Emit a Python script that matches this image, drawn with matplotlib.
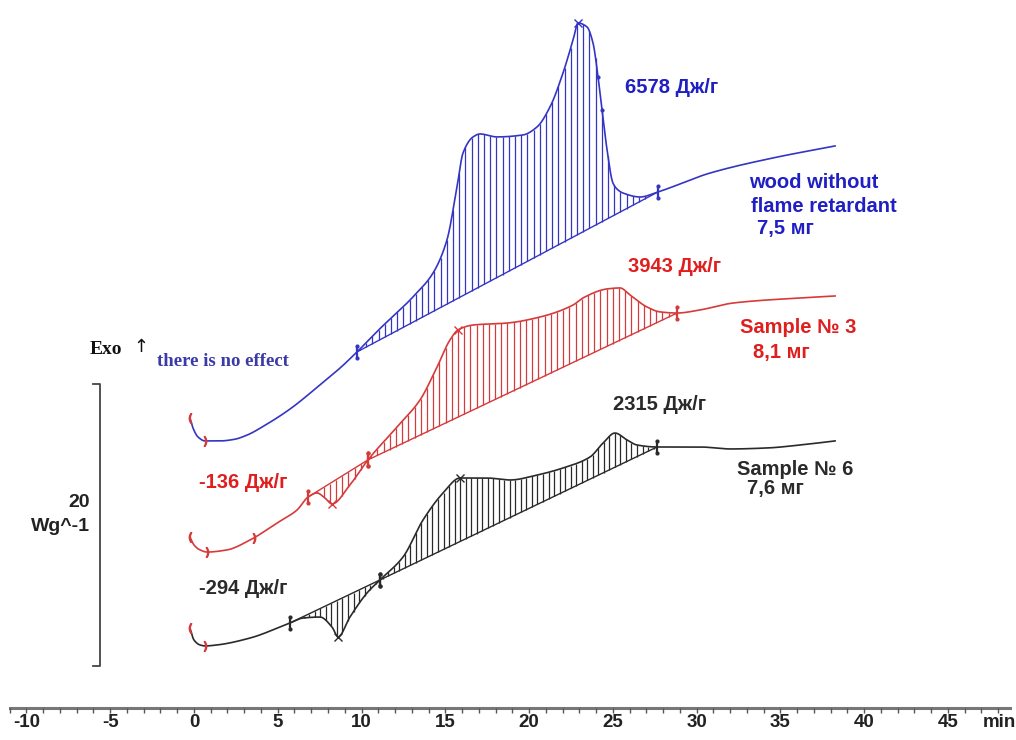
import numpy as np
import matplotlib.pyplot as plt
from matplotlib import font_manager

# DSC thermograms: time in min, heat flow in W/g (curves are shifted)
blue_t = [-0.24, -0.06, 0.24, 0.66, 1.55, 2.40, 3.16, 4.24, 5.73, 7.52, 8.72, 9.73, 11.10, 13.07, 14.27,
          15.10, 15.70, 16.06, 16.66, 17.07, 18.09, 19.64, 20.48, 21.25, 22.03, 22.63, 22.93, 23.46,
          23.82, 24.12, 24.36, 24.66, 25.01, 25.30, 25.61, 26.63, 27.70, 30.81, 34.57, 38.27]
blue_y = [20.57, 19.86, 19.22, 18.94, 18.94, 19.05, 19.35, 20.05, 21.20, 22.91, 24.11, 25.25, 26.90, 29.15,
          30.85, 33.19, 36.95, 39.36, 40.50, 40.71, 40.50, 40.64, 41.21, 42.62, 45.04, 47.38, 48.58, 48.30,
          47.16, 44.75, 42.41, 39.57, 37.23, 36.75, 36.52, 36.24, 36.60, 37.94, 39.01, 39.86]

red_t = [-0.24, 0.0, 0.36, 0.78, 1.97, 3.34, 4.96, 6.15, 6.81, 7.34, 7.82, 8.24, 9.31, 10.39,
         12.12, 13.49, 14.51, 15.28, 15.76, 16.66, 18.69, 20.66, 22.63, 23.22, 24.66, 25.43, 26.03,
         27.04, 27.82, 28.84, 30.21, 32.18, 36.18, 38.27]
red_y = [12.13, 11.56, 11.21, 11.06, 11.21, 11.91, 13.12, 14.04, 14.96, 15.25, 14.89, 14.47, 15.82, 17.60,
         19.93, 21.84, 24.18, 26.10, 26.81, 27.16, 27.30, 27.73, 28.58, 29.08, 29.72, 29.79, 29.29,
         28.44, 28.09, 28.01, 28.23, 28.72, 29.08, 29.22]

black_t = [-0.24, 0.0, 0.36, 0.66, 1.37, 3.34, 5.73, 6.51, 7.52, 8.24, 8.60, 9.31, 10.33, 11.10,
           12.48, 13.67, 14.87, 15.88, 17.49, 18.87, 20.48, 22.03, 23.64, 24.42, 25.13, 25.85, 26.45,
           27.64, 30.21, 32.0, 34.21, 36.18, 38.27]
black_y = [5.67, 4.82, 4.47, 4.40, 4.47, 4.96, 6.03, 6.38, 6.45, 5.74, 5.04, 6.45, 8.16, 9.08,
           10.71, 13.33, 15.25, 16.31, 16.31, 16.17, 16.52, 17.02, 17.80, 18.79, 19.50, 19.01, 18.65,
           18.51, 18.51, 18.37, 18.44, 18.65, 18.94]

# integration limits (start, end) of each peak
blue_peaks = [(9.73, 27.70)]
red_peaks = [(6.81, 10.39), (10.39, 28.84)]
black_peaks = [(5.73, 11.10), (11.10, 27.64)]

# peak tops marked with x
blue_x = [22.93]
red_x = [8.24, 15.76]
black_x = [8.60, 15.88]

tick_values = list(range(-10, 50, 5))

BLUE = '#3535c4'
RED = '#d63a3a'
BLACK = '#2a2a2a'
BLUE_TXT = '#1f1fc4'
RED_TXT = '#e01e1e'

names = {f.name for f in font_manager.fontManager.ttflist}
tick_font = 'Liberation Sans Narrow' if 'Liberation Sans Narrow' in names else 'Liberation Sans'

fig = plt.figure(figsize=(10.16, 7.4), dpi=100)
ax = fig.add_axes([0, 0, 1, 1])
ax.set_xlim(-11.58, 49.07)
ax.set_ylim(-2.27, 50.21)
ax.axis('off')


def pchip(t, y, tn):
    # monotone cubic (Fritsch-Carlson) through the read points
    h = np.diff(t)
    d = np.diff(y) / h
    m = np.zeros_like(y)
    for i in range(1, len(y) - 1):
        if d[i - 1] * d[i] > 0:
            w1 = 2 * h[i] + h[i - 1]
            w2 = h[i] + 2 * h[i - 1]
            m[i] = (w1 + w2) / (w1 / d[i - 1] + w2 / d[i])
    m[0] = d[0]
    m[-1] = d[-1]
    k = np.clip(np.searchsorted(t, tn) - 1, 0, len(t) - 2)
    s = (tn - t[k]) / h[k]
    h00 = 2 * s**3 - 3 * s**2 + 1
    h10 = s**3 - 2 * s**2 + s
    h01 = -2 * s**3 + 3 * s**2
    h11 = s**3 - s**2
    return h00 * y[k] + h10 * h[k] * m[k] + h01 * y[k + 1] + h11 * h[k] * m[k + 1]


def draw_curve(t, y, peaks, xs, color, step):
    t = np.array(t)
    y = np.array(y)
    tf = np.linspace(t[0], t[-1], 2000)
    yf = pchip(t, y, tf)
    ax.plot(tf, yf, color=color, lw=1.2)
    for t0, t1 in peaks:
        y0 = np.interp(t0, tf, yf)
        y1 = np.interp(t1, tf, yf)
        lines = np.arange(t0 + step / 2, t1, step)
        top = np.interp(lines, tf, yf)
        base = y0 + (lines - t0) * (y1 - y0) / (t1 - t0)
        ax.vlines(lines, base, top, colors=color, lw=0.9)
        ax.plot([t0, t1], [y0, y1], color=color, lw=1.0)
        ax.plot([t0, t1], [y0, y1], ls='none', marker='|', ms=9, mew=1.6, color=color)
        ax.plot([t0, t1, t0, t1], [y0 - 0.45, y1 - 0.45, y0 + 0.45, y1 + 0.45],
                ls='none', marker='.', ms=4, color=color)
    ax.plot(xs, np.interp(xs, tf, yf), ls='none', marker='x', ms=6, mew=1.0, color=color)
    # red brackets at the start of the run
    ax.plot([t[0]], [y[0]], ls='none', marker='$($', ms=7, color=RED)
    ax.plot([t[3]], [y[3]], ls='none', marker='$)$', ms=7, color=RED)
    return tf, yf


draw_curve(blue_t, blue_y, blue_peaks, blue_x, BLUE, 0.37)
rt, ry = draw_curve(red_t, red_y, red_peaks, red_x, RED, 0.37)
draw_curve(black_t, black_y, black_peaks, black_x, BLACK, 0.33)
ax.plot([3.6], [np.interp(3.6, rt, ry)], ls='none', marker='$)$', ms=7, color=RED)
ax.plot([24.12, 24.36], [np.interp(24.12, blue_t, blue_y), np.interp(24.36, blue_t, blue_y)],
        ls='none', marker='.', ms=4, color=BLUE)

# time axis
ax.plot([-11.0, 48.7], [0, 0], color='#777777', lw=2.2)
ax.vlines(np.arange(-11, 49), -0.38, 0, colors='#555555', lw=1.0)
for v in tick_values:
    ax.text(v, -1.06, str(v), ha='center', va='center', fontsize=13.5,
            family=tick_font, fontweight='bold', color='#222222')
ax.text(48.1, -1.06, 'min', ha='center', va='center', fontsize=13.5,
        family=tick_font, fontweight='bold', color='#222222')

# 20 W/g scale bar
ax.plot([-6.0, -5.61, -5.61, -6.0], [23.0, 23.0, 3.0, 3.0], color='#444444', lw=1.3)
ax.text(-6.2, 14.6, '20', ha='right', va='center', fontsize=14, fontweight='bold',
        family='Liberation Sans', color='#222222')
ax.text(-6.2, 12.85, 'Wg^-1', ha='right', va='center', fontsize=14, fontweight='bold',
        family='Liberation Sans', color='#222222')

ax.text(-6.2, 25.4, 'Exo', ha='left', va='center', fontsize=14, fontweight='bold',
        family='Liberation Serif', color='#111111')
ax.text(-3.15, 25.6, '↑', ha='center', va='center', fontsize=13, family='DejaVu Sans',
        color='#111111')
ax.text(-2.2, 24.6, 'there is no effect', ha='left', va='center', fontsize=13.5,
        fontweight='bold', family='Liberation Serif', color='#3a3aa8')

lab = dict(fontsize=14.5, fontweight='bold', family='Liberation Sans', va='center')
ax.text(25.7, 44.0, '6578 Дж/г', color=BLUE_TXT, ha='left', **lab)
ax.text(37.0, 37.3, 'wood without', color=BLUE_TXT, ha='center', **lab)
ax.text(37.6, 35.6, 'flame retardant', color=BLUE_TXT, ha='center', **lab)
ax.text(33.6, 34.0, '7,5 мг', color=BLUE_TXT, ha='left', **lab)

ax.text(25.9, 31.3, '3943 Дж/г', color=RED_TXT, ha='left', **lab)
ax.text(32.6, 27.0, 'Sample № 3', color=RED_TXT, ha='left', **lab)
ax.text(33.4, 25.2, '8,1 мг', color=RED_TXT, ha='left', **lab)
ax.text(0.3, 16.0, '-136 Дж/г', color=RED_TXT, ha='left', **lab)

ax.text(25.0, 21.5, '2315 Дж/г', color=BLACK, ha='left', **lab)
ax.text(32.4, 16.9, 'Sample № 6', color=BLACK, ha='left', **lab)
ax.text(33.0, 15.6, '7,6 мг', color=BLACK, ha='left', **lab)
ax.text(0.3, 8.5, '-294 Дж/г', color=BLACK, ha='left', **lab)

fig.savefig('out.png', dpi=100)
